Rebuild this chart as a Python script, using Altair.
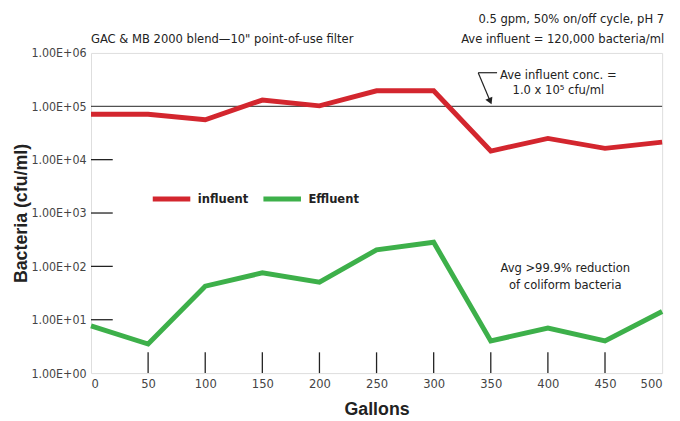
import altair as alt
import pandas as pd

gallons = [0, 50, 100, 150, 200, 250, 300, 350, 400, 450, 500]
influent = [71000, 71000, 56000, 131000, 102000, 195000, 195000, 14500, 25000, 16300, 21300]
effluent = [7.7, 3.5, 42.6, 75.5, 50.6, 204, 283, 4.0, 7.0, 4.0, 14.3]
series_names = ["influent", "Effluent"]
series_colors = ["#d3262e", "#3db04a"]

y_ticks = [1, 10, 100, 1000, 10000, 100000, 1000000]
x_ticks = [0, 50, 100, 150, 200, 250, 300, 350, 400, 450, 500]
inner_y_ticks = [10, 100, 1000, 10000]
inner_x_ticks = [50, 100, 150, 200, 250, 300, 350, 400, 450]
ave_influent = 100000

# arrow annotation (data coordinates)
arrow_x = [355.5, 339.0]
arrow_y = [426000, 426000]
arrow2_x = [339.0, 349.5]
arrow2_y = [426000, 124000]

NARROW = "Liberation Sans Narrow, DejaVu Sans Condensed, Arial Narrow, sans-serif"
BOLD = "Liberation Sans, Arial, Helvetica, sans-serif"

W, H = 578, 324

df = pd.DataFrame({
    "gallons": gallons * 2,
    "value": influent + effluent,
    "series": [series_names[0]] * len(gallons) + [series_names[1]] * len(gallons),
})

xs = alt.Scale(domain=[0, 500], nice=False, zero=False)
ys = alt.Scale(type="log", domain=[1, 1000000], nice=False)

lines = alt.Chart(df).mark_line(strokeWidth=5, strokeJoin="miter").encode(
    x=alt.X("gallons:Q", scale=xs,
            axis=alt.Axis(values=x_ticks, title="Gallons", grid=False, ticks=False, domain=False,
                          labelFont=NARROW, labelFontSize=13, labelColor="#444", labelPadding=5,
                          titleFont=BOLD, titleFontSize=18, titleFontWeight="bold", titleColor="#222",
                          titleX=W / 2, titleY=37, titleBaseline="middle")),
    y=alt.Y("value:Q", scale=ys,
            axis=alt.Axis(values=y_ticks, title="Bacteria (cfu/ml)", grid=False, ticks=False, domain=False,
                          labelExpr="'1.00E+0' + round(log(datum.value)/LN10)",
                          labelFont=NARROW, labelFontSize=12.5, labelColor="#444", labelPadding=5,
                          titleFont=BOLD, titleFontSize=18, titleFontWeight="bold", titleColor="#222",
                          titleX=-70, titleY=H / 2, titleAngle=-90, titleAlign="center",
                          titleBaseline="middle")),
    color=alt.Color("series:N", scale=alt.Scale(domain=series_names, range=series_colors),
                    sort=series_names,
                    legend=alt.Legend(title=None, orient="none", legendX=60, legendY=126,
                                      direction="horizontal", symbolType="stroke", symbolSize=1444,
                                      symbolStrokeWidth=5, labelFont=NARROW, labelFontSize=13,
                                      labelFontWeight="bold", labelColor="#222", labelOffset=5,
                                      columnPadding=4)),
)

ytick_df = pd.DataFrame({"v": inner_y_ticks})
yticks = alt.Chart(ytick_df).mark_rule(color="#222", strokeWidth=1.3).encode(
    y=alt.Y("v:Q", scale=ys), x=alt.value(0), x2=alt.value(22))

xtick_df = pd.DataFrame({"g": inner_x_ticks})
xticks = alt.Chart(xtick_df).mark_rule(color="#222", strokeWidth=1.3).encode(
    x=alt.X("g:Q", scale=xs), y=alt.value(H - 21), y2=alt.value(H))

ref = alt.Chart(pd.DataFrame({"v": [ave_influent]})).mark_rule(color="#222", strokeWidth=1).encode(
    y=alt.Y("v:Q", scale=ys), x=alt.value(0), x2=alt.value(W))

arr1 = alt.Chart(pd.DataFrame({"x": arrow_x, "y": arrow_y})).mark_line(color="#222", strokeWidth=1.2).encode(
    x=alt.X("x:Q", scale=xs), y=alt.Y("y:Q", scale=ys))
arr2 = alt.Chart(pd.DataFrame({"x": arrow2_x, "y": arrow2_y})).mark_line(color="#222", strokeWidth=1.2).encode(
    x=alt.X("x:Q", scale=xs), y=alt.Y("y:Q", scale=ys))
head = alt.Chart(pd.DataFrame({"x": [arrow2_x[1]], "y": [arrow2_y[1]]})).mark_point(
    shape="triangle-up", angle=156, filled=True, color="#222", size=60, opacity=1).encode(
    x=alt.X("x:Q", scale=xs), y=alt.Y("y:Q", scale=ys))

def txt(s, x, y, align="center", size=13, weight="normal"):
    return alt.Chart(pd.DataFrame({"t": [s]})).mark_text(
        font=NARROW, fontSize=size, fontWeight=weight, color="#222", align=align, baseline="middle"
    ).encode(text="t:N", x=alt.value(x), y=alt.value(y))

texts = [
    txt("GAC & MB 2000 blend\u201410\" point-of-use filter", 0, -14, align="left"),
    txt("0.5 gpm, 50% on/off cycle, pH 7", 580, -34, align="right"),
    txt("Ave influent = 120,000 bacteria/ml", 580, -14, align="right"),
    txt("Ave influent conc. =", 473, 22),
    txt("1.0 x 10\u2075 cfu/ml", 473, 38),
    txt("Avg >99.9% reduction", 480, 218),
    txt("of coliform bacteria", 480, 235),
]

chart = alt.layer(ref, yticks, xticks, lines, arr1, arr2, head, *texts).properties(
    width=W, height=H,
    autosize=alt.AutoSizeParams(type="none"),
    padding={"left": 84, "top": 43, "right": 10, "bottom": 46},
).configure_view(stroke="#222", strokeWidth=2.5).configure(background="white")

chart.save("out.html", embed_options={"renderer": "svg", "actions": False})
